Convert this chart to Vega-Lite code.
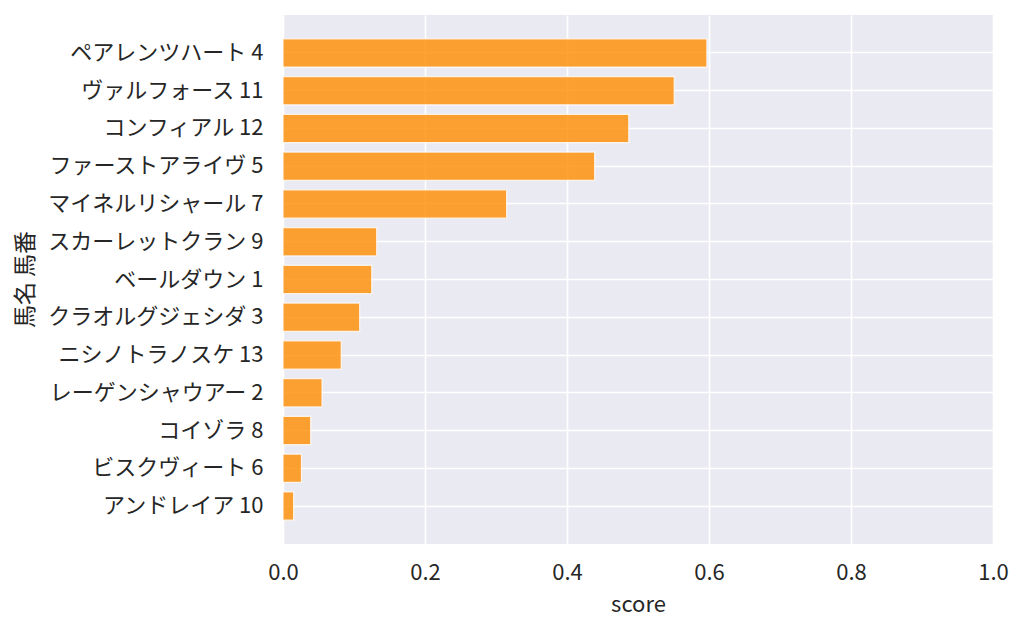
{
  "$schema": "https://vega.github.io/schema/vega-lite/v6.json",
  "autosize": "none",
  "padding": {"left": 283, "top": 15, "right": 31, "bottom": 90},
  "width": 710,
  "height": 529,
  "background": "white",
  "config": {
    "view": {"fill": "#eaeaf2", "stroke": null},
    "font": "Noto Sans CJK JP"
  },
  "data": {
    "values": [
      {"horse": "ペアレンツハート 4", "score": 0.597},
      {"horse": "ヴァルフォース 11", "score": 0.551},
      {"horse": "コンフィアル 12", "score": 0.487},
      {"horse": "ファーストアライヴ 5", "score": 0.439},
      {"horse": "マイネルリシャール 7", "score": 0.315},
      {"horse": "スカーレットクラン 9", "score": 0.132},
      {"horse": "ベールダウン 1", "score": 0.125},
      {"horse": "クラオルグジェシダ 3", "score": 0.108},
      {"horse": "ニシノトラノスケ 13", "score": 0.082},
      {"horse": "レーゲンシャウアー 2", "score": 0.055},
      {"horse": "コイゾラ 8", "score": 0.039},
      {"horse": "ビスクヴィート 6", "score": 0.026},
      {"horse": "アンドレイア 10", "score": 0.015}
    ]
  },
  "mark": {"type": "bar", "fill": "#ff8c00", "fillOpacity": 0.8, "stroke": "#ffffff", "strokeOpacity": 0.8, "strokeWidth": 1.2},
  "encoding": {
    "y": {
      "field": "horse",
      "type": "nominal",
      "sort": null,
      "scale": {"paddingInner": 0.25, "paddingOuter": 0.63},
      "axis": {
        "title": "馬名 馬番",
        "titleFontSize": 23,
        "titleFontWeight": "normal",
        "titleColor": "#262626",
        "titleX": -258,
        "titleY": 264,
        "titleAngle": -90,
        "titleAlign": "center",
        "titleBaseline": "middle",
        "labelFontSize": 22,
        "labelColor": "#262626",
        "labelPadding": 20,
        "labelLimit": 400,
        "ticks": false,
        "domain": false,
        "grid": true,
        "gridColor": "#ffffff",
        "gridWidth": 1.6,
        "bandPosition": 0.5
      }
    },
    "x": {
      "field": "score",
      "type": "quantitative",
      "scale": {"domain": [0, 1], "nice": false},
      "axis": {
        "title": "score",
        "titleFontSize": 22,
        "titleFontWeight": "normal",
        "titleColor": "#262626",
        "titlePadding": 11,
        "values": [0, 0.2, 0.4, 0.6, 0.8, 1.0],
        "format": ".1f",
        "labelFontSize": 22,
        "labelColor": "#262626",
        "labelPadding": 18,
        "labelFlush": false,
        "ticks": false,
        "domain": false,
        "grid": true,
        "gridColor": "#ffffff",
        "gridWidth": 1.6
      }
    }
  }
}
